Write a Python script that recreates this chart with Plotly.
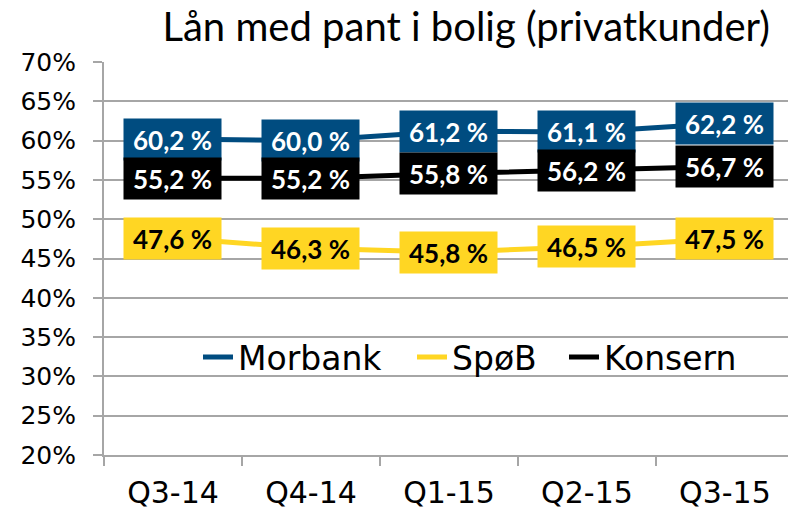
import plotly.graph_objects as go

categories = ["Q3-14", "Q4-14", "Q1-15", "Q2-15", "Q3-15"]
morbank = [60.2, 60.0, 61.2, 61.1, 62.2]
spob = [47.6, 46.3, 45.8, 46.5, 47.5]
konsern = [55.2, 55.2, 55.8, 56.2, 56.7]
y_ticks = [20, 25, 30, 35, 40, 45, 50, 55, 60, 65, 70]

BLUE = "#004C80"
YELLOW = "#FFD623"
BLACK = "#000000"
GRID = "#A6A6A6"
AXFONT = "DejaVu Sans, Verdana, sans-serif"
TITLEFONT = "Lato, Open Sans, sans-serif"
LBLFONT = "Lato, Open Sans, sans-serif"

series = [
    ("Morbank", morbank, BLUE, "white", "legend"),
    ("SpøB", spob, YELLOW, "black", "legend2"),
    ("Konsern", konsern, BLACK, "white", "legend3"),
]

fig = go.Figure()
for name, vals, col, _, lg in series:
    fig.add_trace(go.Scatter(
        x=categories, y=vals, name=name, mode="lines",
        line=dict(color=col, width=5), legend=lg,
    ))

annotations = []
for name, vals, col, tcol, _ in series:
    for c, v in zip(categories, vals):
        annotations.append(dict(
            x=c, y=v, xref="x", yref="y",
            text=f"{v:.1f}".replace(".", ",") + " %",
            showarrow=False, bgcolor=col, borderpad=2,
            width=93, height=37, align="center", valign="middle",
            font=dict(family=LBLFONT, size=26, color=tcol, weight="bold"),
            xanchor="center", yanchor="middle",
        ))

legend_common = dict(
    orientation="h", xanchor="left", y=0.249, yanchor="middle",
    font=dict(family=AXFONT, size=33, color="black"),
    bgcolor="rgba(255,255,255,0)",
)

fig.update_layout(
    width=788, height=511,
    margin=dict(l=104, r=0, t=62, b=56, autoexpand=False),
    paper_bgcolor="white", plot_bgcolor="white",
    title=dict(
        text="Lån med pant i bolig (privatkunder)",
        xref="container", yref="container",
        x=770 / 788, xanchor="right", y=1 - 27 / 511, yanchor="middle",
        font=dict(family=TITLEFONT, size=40, color="black"),
    ),
    showlegend=True,
    legend=dict(x=(198 - 104) / 684, **legend_common),
    legend2=dict(x=(412 - 104) / 684, **legend_common),
    legend3=dict(x=(564 - 104) / 684, **legend_common),
    annotations=annotations,
)

fig.update_xaxes(
    type="category", range=[-0.5, 4.457], automargin=False,
    showline=True, linecolor=GRID, linewidth=2,
    ticks="outside", tickson="boundaries", ticklen=9, tickcolor=GRID, tickwidth=2,
    showgrid=False,
    tickfont=dict(family=AXFONT, size=30, color="black"),
    ticklabelstandoff=10,
)
fig.update_yaxes(
    range=[20, 70], tickvals=y_ticks, ticktext=[f"{t}%" for t in y_ticks],
    automargin=False,
    showline=True, linecolor=GRID, linewidth=2,
    ticks="outside", ticklen=9, tickcolor=GRID, tickwidth=2,
    showgrid=True, gridcolor=GRID, gridwidth=2,
    zeroline=False,
    tickfont=dict(family=AXFONT, size=25, color="black"),
    ticklabelstandoff=12,
)

fig.write_html("out.html", config={"displayModeBar": False},
               post_script="document.body.style.margin='0';")
